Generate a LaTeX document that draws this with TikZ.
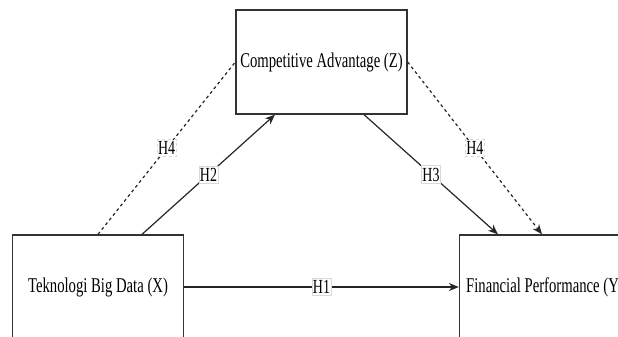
\documentclass[tikz,border=0pt]{standalone}
\usepackage{fontspec}
\setmainfont[FakeStretch=0.7]{Liberation Serif}
\usepackage{tikz}
\usetikzlibrary{arrows.meta}
\tikzstyle{variabel} = [draw=black!80, line width=1.3pt, rectangle, minimum width=171pt, minimum height=104pt, inner sep=0pt, font=\fontsize{21}{25}\selectfont]
\tikzstyle{hipotesis} = [fill=white, draw=black!15, line width=0.6pt, inner xsep=1pt, inner ysep=2pt, font=\fontsize{20}{24}\selectfont]
\tikzstyle{panah} = [draw=black!85, line width=1.2pt, -{Stealth[length=10pt,width=8pt]}]
\tikzstyle{garis} = [draw=black!85, line width=1.2pt]

\begin{document}
\begin{tikzpicture}[x=1pt, y=-1pt]
	\clip (0,0) rectangle (618,337);
	\fill[white] (0,0) rectangle (618,337);
	\node[variabel](kompetitif) at (321.5,62) {Competitive Advantage (Z)};
	\node[variabel](teknologi) at (98,287) {Teknologi Big Data (X)};
	\node[variabel](kinerja) at (545,287) {Financial Performance (Y)};
	\draw[panah] (teknologi.east) -- node[hipotesis]{H1} (kinerja.west);
	\draw[panah] ([xshift=44pt]teknologi.north) -- node[hipotesis]{H2} ([xshift=-46.5pt]kompetitif.south);
	\draw[panah] ([xshift=42.5pt]kompetitif.south) -- node[hipotesis]{H3} ([xshift=-47pt]kinerja.north);
	\draw[garis, dashed] (teknologi.north) -- node[hipotesis]{H4} (kompetitif.west);
	\draw[panah, dashed] (kompetitif.east) -- node[hipotesis]{H4} ([xshift=-3pt]kinerja.north);
\end{tikzpicture}
\end{document}
